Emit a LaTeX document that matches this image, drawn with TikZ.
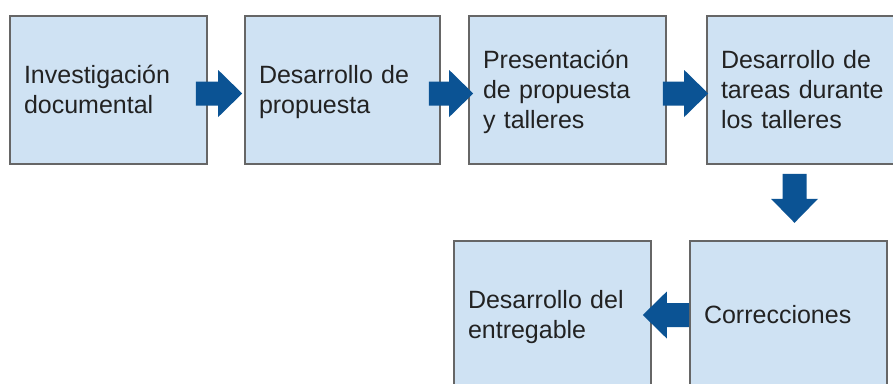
\documentclass[tikz,border=0pt]{standalone}
\usepackage{fontspec}
\setmainfont{Liberation Sans}
\usetikzlibrary{calc}
\definecolor{boxfill}{HTML}{CFE2F3}
\definecolor{boxline}{HTML}{666666}
\definecolor{arrowcol}{HTML}{0B5394}
\definecolor{txt}{HTML}{222222}
\newcommand\topst{\rule{0pt}{23pt}}
\newcommand\botst{\rule[-7pt]{0pt}{7pt}}
\newcommand\blockarrow[2]{%
  \path ($(#2)!24pt!(#1)$) coordinate (hb);
  \fill[arrowcol] ($(#1)!12pt!90:(#2)$) -- ($(hb)!12pt!90:(#2)$) -- ($(hb)!23.5pt!90:(#2)$)
    -- (#2) -- ($(hb)!23.5pt!-90:(#2)$) -- ($(hb)!12pt!-90:(#2)$) -- ($(#1)!12pt!-90:(#2)$) -- cycle;
}
\tikzset{
  box/.style={draw=boxline, line width=1.6pt, fill=boxfill, rectangle,
    minimum width=197pt, minimum height=148pt, text width=169pt, inner xsep=14pt,
    align=left, text=txt, font=\fontsize{25}{30}\selectfont},
}
\begin{document}
\begin{tikzpicture}[x=1pt,y=-1pt]
\useasboundingbox (0,0) rectangle (893,383);
\clip (0,0) rectangle (893,383);
\fill[white] (0,0) rectangle (893,383);
\node[box] (b1) at (108.5,90) {\topst Investigación\\documental\botst};
\node[box, minimum width=195pt, text width=167pt] (b2) at (342.5,90) {\topst Desarrollo de\\propuesta\botst};
\node[box] (b3) at (567.5,90) {\topst Presentación\\de propuesta\\y talleres\botst};
\node[box] (b4) at (805.5,90) {\topst Desarrollo de\\tareas durante\\los talleres\botst};
\node[box] (b5) at (552.5,315) {\topst Desarrollo del\\entregable\botst};
\node[box] (b6) at (788.5,315) {\topst Correcciones\botst};
% arrow end points
\coordinate (a1s) at ($(b1.east)+(-12,3.5)$);
\coordinate (a1t) at ($(b2.west)+(-2,3.5)$);
\coordinate (a2s) at ($(b2.east)+(-12,3.5)$);
\coordinate (a2t) at ($(b3.west)+(5,3.5)$);
\coordinate (a3s) at ($(b3.east)+(-4,3.5)$);
\coordinate (a3t) at ($(b4.west)+(2,3.5)$);
\coordinate (a4s) at ($(b4.south)+(-11,9)$);
\coordinate (a4t) at ($(b4.south)+(-11,58)$);
\coordinate (a5s) at (b6.west);
\coordinate (a5t) at ($(b5.east)+(-9,0)$);
\blockarrow{a1s}{a1t}
\blockarrow{a2s}{a2t}
\blockarrow{a3s}{a3t}
\blockarrow{a4s}{a4t}
\blockarrow{a5s}{a5t}
\end{tikzpicture}
\end{document}
